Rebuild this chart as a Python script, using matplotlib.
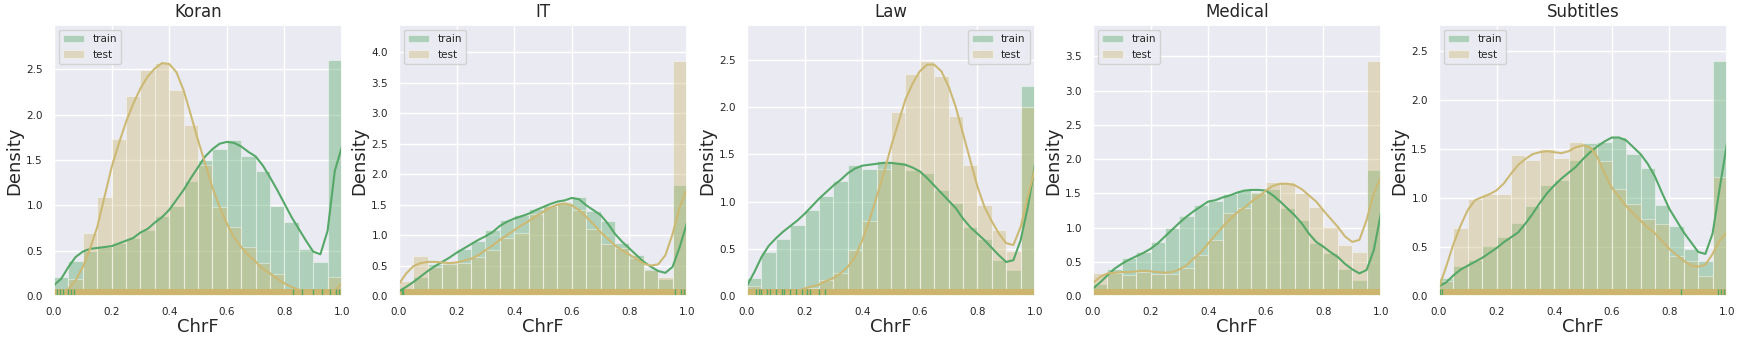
import numpy as np
import seaborn as sns
from matplotlib import pyplot as plt

sns.set_theme(style='darkgrid')
plt.rcParams['font.family'] = ['DejaVu Sans']

TRAIN_COLOR = '#55a868'
TEST_COLOR = '#ccb974'

domains = ['Koran', 'IT', 'Law', 'Medical', 'Subtitles']
bin_edges = np.linspace(0, 1, 21)
kde_x = np.linspace(0, 1, 41)

# histogram densities (20 bins of width 0.05)
train_hist = {
    'Koran': [0.21, 0.39, 0.50, 0.54, 0.58, 0.64, 0.73, 0.88, 0.99, 1.27,
              1.50, 1.62, 1.72, 1.54, 1.38, 0.99, 0.82, 0.52, 0.38, 2.60],
    'IT': [0.10, 0.31, 0.52, 0.55, 0.77, 0.90, 1.08, 1.25, 1.33, 1.43,
           1.50, 1.55, 1.63, 1.40, 1.23, 0.87, 0.68, 0.44, 0.28, 1.83],
    'Law': [0.19, 0.47, 0.60, 0.75, 0.91, 1.06, 1.22, 1.39, 1.35, 1.43,
            1.42, 1.33, 1.30, 1.12, 0.98, 0.73, 0.60, 0.38, 0.28, 2.22],
    'Medical': [0.18, 0.40, 0.55, 0.64, 0.79, 1.00, 1.17, 1.33, 1.39, 1.49,
                1.55, 1.52, 1.56, 1.28, 1.11, 0.78, 0.63, 0.40, 0.24, 1.84],
    'Subtitles': [0.18, 0.31, 0.37, 0.51, 0.60, 0.75, 0.92, 1.13, 1.19, 1.39,
                  1.56, 1.57, 1.63, 1.45, 1.31, 0.93, 0.72, 0.48, 0.36, 2.40],
}
test_hist = {
    'Koran': [0.02, 0.19, 0.70, 1.09, 1.73, 2.21, 2.49, 2.57, 2.27, 1.89,
              1.45, 0.98, 0.76, 0.54, 0.36, 0.24, 0.06, 0.01, 0.00, 0.21],
    'IT': [0.24, 0.65, 0.48, 0.53, 0.54, 0.64, 0.76, 0.95, 1.04, 1.35,
           1.48, 1.53, 1.42, 1.10, 0.86, 0.79, 0.62, 0.42, 0.32, 3.86],
    'Law': [0.11, 0.05, 0.03, 0.04, 0.08, 0.17, 0.24, 0.49, 0.79, 1.35,
            1.95, 2.35, 2.49, 2.33, 1.91, 1.39, 0.96, 0.70, 0.48, 2.00],
    'Medical': [0.33, 0.33, 0.31, 0.35, 0.32, 0.32, 0.41, 0.60, 0.82, 1.21,
                1.29, 1.50, 1.66, 1.66, 1.50, 1.30, 1.01, 0.74, 0.64, 3.43],
    'Subtitles': [0.15, 0.69, 0.99, 1.04, 1.04, 1.44, 1.39, 1.50, 1.41, 1.57,
                  1.53, 1.38, 1.09, 0.94, 0.79, 0.74, 0.41, 0.36, 0.20, 1.22],
}

# kde curves read at x = 0, 0.025, ..., 1.0
train_kde = {
    'Koran': [0.12, 0.19, 0.32, 0.43, 0.49, 0.52, 0.53, 0.54, 0.55, 0.58,
              0.61, 0.64, 0.70, 0.74, 0.81, 0.87, 0.95, 1.06, 1.17, 1.30,
              1.42, 1.54, 1.62, 1.68, 1.70, 1.69, 1.65, 1.59, 1.54, 1.44,
              1.31, 1.17, 1.02, 0.87, 0.74, 0.61, 0.49, 0.46, 0.72, 1.38, 1.65],
    'IT': [0.08, 0.15, 0.23, 0.32, 0.41, 0.49, 0.56, 0.63, 0.71, 0.78,
           0.85, 0.92, 0.98, 1.05, 1.15, 1.22, 1.27, 1.31, 1.35, 1.41,
           1.46, 1.51, 1.55, 1.57, 1.61, 1.59, 1.49, 1.41, 1.33, 1.19,
           1.02, 0.89, 0.78, 0.67, 0.56, 0.48, 0.41, 0.38, 0.48, 0.81, 1.20],
    'Law': [0.11, 0.25, 0.41, 0.53, 0.61, 0.68, 0.74, 0.80, 0.87, 0.95,
            1.03, 1.10, 1.17, 1.23, 1.30, 1.35, 1.38, 1.39, 1.40, 1.41,
            1.41, 1.40, 1.39, 1.36, 1.32, 1.25, 1.17, 1.09, 1.01, 0.93,
            0.82, 0.73, 0.66, 0.59, 0.51, 0.43, 0.36, 0.38, 0.59, 0.94, 1.39],
    'Medical': [0.11, 0.20, 0.30, 0.40, 0.47, 0.53, 0.58, 0.63, 0.69, 0.77,
                0.87, 0.97, 1.07, 1.16, 1.24, 1.31, 1.38, 1.40, 1.44, 1.47,
                1.51, 1.54, 1.55, 1.55, 1.54, 1.47, 1.38, 1.28, 1.18, 1.06,
                0.91, 0.79, 0.72, 0.64, 0.57, 0.47, 0.39, 0.33, 0.38, 0.67, 1.21],
    'Subtitles': [0.10, 0.14, 0.21, 0.27, 0.31, 0.35, 0.39, 0.44, 0.49, 0.55,
                  0.60, 0.65, 0.74, 0.84, 0.95, 1.05, 1.13, 1.20, 1.26, 1.32,
                  1.40, 1.47, 1.53, 1.58, 1.62, 1.62, 1.59, 1.52, 1.45, 1.35,
                  1.22, 1.05, 0.89, 0.77, 0.65, 0.55, 0.45, 0.43, 0.64, 1.11, 1.56],
}
test_kde = {
    'Koran': [0.00, 0.03, 0.08, 0.17, 0.32, 0.52, 0.76, 1.09, 1.42, 1.68,
              1.92, 2.12, 2.29, 2.42, 2.51, 2.57, 2.56, 2.47, 2.27, 2.00,
              1.72, 1.46, 1.20, 0.98, 0.80, 0.65, 0.54, 0.45, 0.38, 0.30,
              0.25, 0.19, 0.14, 0.10, 0.07, 0.04, 0.02, 0.01, 0.02, 0.06, 0.14],
    'IT': [0.20, 0.37, 0.49, 0.54, 0.56, 0.56, 0.55, 0.54, 0.55, 0.58,
           0.61, 0.67, 0.75, 0.83, 0.92, 1.00, 1.08, 1.16, 1.23, 1.31,
           1.38, 1.45, 1.50, 1.52, 1.49, 1.41, 1.30, 1.18, 1.05, 0.94,
           0.83, 0.75, 0.68, 0.61, 0.53, 0.50, 0.52, 0.67, 1.02, 1.46, 1.76],
    'Law': [0.01, 0.01, 0.02, 0.02, 0.02, 0.03, 0.04, 0.05, 0.08, 0.10,
            0.12, 0.16, 0.19, 0.24, 0.31, 0.41, 0.59, 0.80, 1.05, 1.30,
            1.58, 1.83, 2.08, 2.25, 2.38, 2.45, 2.45, 2.38, 2.22, 2.00,
            1.72, 1.44, 1.16, 0.94, 0.79, 0.66, 0.56, 0.54, 0.73, 1.05, 1.35],
    'Medical': [0.19, 0.28, 0.33, 0.34, 0.35, 0.35, 0.36, 0.37, 0.36, 0.35,
                0.34, 0.35, 0.39, 0.45, 0.55, 0.64, 0.77, 0.89, 1.01, 1.12,
                1.22, 1.29, 1.38, 1.45, 1.54, 1.61, 1.64, 1.64, 1.62, 1.56,
                1.47, 1.38, 1.25, 1.13, 1.01, 0.87, 0.79, 0.82, 1.11, 1.50, 1.74],
    'Subtitles': [0.09, 0.30, 0.53, 0.72, 0.88, 0.98, 1.01, 1.04, 1.08, 1.15,
                  1.25, 1.34, 1.40, 1.45, 1.47, 1.48, 1.47, 1.46, 1.48, 1.52,
                  1.54, 1.52, 1.42, 1.25, 1.11, 1.01, 0.92, 0.84, 0.77, 0.70,
                  0.64, 0.56, 0.48, 0.42, 0.36, 0.31, 0.30, 0.32, 0.43, 0.57, 0.65],
}

# train rug ticks that stay visible outside the test rug
train_rug_visible = {
    'Koran': [0.01, 0.02, 0.03, 0.05, 0.06, 0.07, 0.83, 0.86, 0.90, 0.93, 0.96, 0.98, 0.99],
    'IT': [0.01, 0.015, 0.96, 0.98, 0.99],
    'Law': [0.03, 0.04, 0.05, 0.07, 0.08, 0.10, 0.12, 0.13, 0.15, 0.17, 0.19,
            0.21, 0.22, 0.25, 0.27],
    'Medical': [],
    'Subtitles': [0.005, 0.01, 0.84, 0.97, 0.98, 0.99, 1.0],
}

y_max = {'Koran': 2.99, 'IT': 4.45, 'Law': 2.87, 'Medical': 3.96, 'Subtitles': 2.77}
legend_loc = {'Koran': 'upper left', 'IT': 'upper left', 'Law': 'upper right',
              'Medical': 'upper left', 'Subtitles': 'upper left'}

fig = plt.figure(figsize=(17.42, 3.42), dpi=100)
lefts = [54, 399, 747, 1093, 1439]

for left, name in zip(lefts, domains):
    ax = fig.add_axes([left / 1742, 1 - 296 / 342, 288 / 1742, 271 / 342])
    ax.bar(bin_edges[:-1], train_hist[name], width=0.05, align='edge',
           color=TRAIN_COLOR, alpha=0.4, edgecolor='white', linewidth=0.8, label='train')
    ax.bar(bin_edges[:-1], test_hist[name], width=0.05, align='edge',
           color=TEST_COLOR, alpha=0.4, edgecolor='white', linewidth=0.8, label='test')
    ax.plot(kde_x, train_kde[name], color=TRAIN_COLOR, lw=1.5)
    ax.plot(kde_x, test_kde[name], color=TEST_COLOR, lw=1.5)

    # rug: green band, tan band on top, then the green ticks that show through
    trans = ax.get_xaxis_transform()
    ax.fill_between([0, 1], 0, 0.025, color=TRAIN_COLOR, transform=trans, lw=0)
    ax.fill_between([0, 1], 0, 0.025, color='#cbb56f', transform=trans, lw=0)
    if train_rug_visible[name]:
        ax.vlines(train_rug_visible[name], 0, 0.025, color=TRAIN_COLOR, lw=1, transform=trans)

    ax.set_xlim(0, 1)
    ax.set_ylim(0, y_max[name])
    ax.set_xticks([0, 0.2, 0.4, 0.6, 0.8, 1.0])
    ax.set_xticklabels(['0.0', '0.2', '0.4', '0.6', '0.8', '1.0'])
    ax.tick_params(labelsize=7.5, pad=2)
    ax.set_title(name, fontsize=12)
    ax.set_xlabel('ChrF', fontsize=13, labelpad=1)
    ax.set_ylabel('Density', fontsize=13, labelpad=2)
    ax.legend(loc=legend_loc[name], fontsize=7.5)

plt.savefig('out.png', dpi=100)
